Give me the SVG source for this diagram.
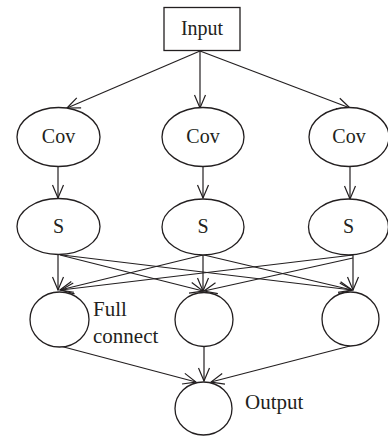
<svg xmlns="http://www.w3.org/2000/svg" width="388" height="436" viewBox="0 0 388 436">
<defs>
<style>
.n{fill:#fff;stroke:#231f20;stroke-width:1.3}
.t{font-family:"Liberation Serif","Times New Roman",serif;font-size:20px;fill:#231f20}
.c{text-anchor:middle}
.e{fill:none;stroke:#231f20;stroke-width:1.2;marker-end:url(#a)}
</style>
<marker id="a" markerUnits="userSpaceOnUse" markerWidth="16" markerHeight="14" refX="14" refY="6" orient="auto" viewBox="0 0 16 12">
<path d="M1,0.5 L14,6 L1,11.5" fill="none" stroke="#231f20" stroke-width="1.2"/>
</marker>
</defs>
<rect width="388" height="436" fill="#fff"/>
<g id="edges">
<line class="e" x1="200" y1="51" x2="67" y2="108"/>
<line class="e" x1="200" y1="51" x2="200" y2="108"/>
<line class="e" x1="200" y1="51" x2="350" y2="108"/>
<line class="e" x1="58" y1="166" x2="58" y2="198"/>
<line class="e" x1="203" y1="166" x2="203" y2="198"/>
<line class="e" x1="350" y1="166" x2="350" y2="199"/>
<line class="e" x1="58" y1="255" x2="58" y2="290"/>
<line class="e" x1="60" y1="255" x2="203" y2="291"/>
<line class="e" x1="62" y1="255" x2="352" y2="290"/>
<line class="e" x1="203" y1="255" x2="60" y2="290"/>
<line class="e" x1="203" y1="255" x2="203" y2="291"/>
<line class="e" x1="204" y1="255" x2="352" y2="290"/>
<line class="e" x1="353" y1="255" x2="61" y2="290"/>
<line class="e" x1="353" y1="258" x2="204" y2="291"/>
<line class="e" x1="353" y1="255" x2="353" y2="290"/>
<line class="e" x1="60" y1="346" x2="196" y2="382"/>
<line class="e" x1="204" y1="347" x2="204" y2="381"/>
<line class="e" x1="350" y1="346" x2="211" y2="382"/>
</g>
<g id="input">
<rect class="n" x="164" y="7.5" width="76" height="43"/>
<text class="t c" x="202" y="35">Input</text>
</g>
<g id="cov1">
<ellipse class="n" cx="58.5" cy="137" rx="41.5" ry="29.5"/>
<text class="t c" x="58.5" y="143">Cov</text>
</g>
<g id="cov2">
<ellipse class="n" cx="203" cy="137" rx="41" ry="29.5"/>
<text class="t c" x="203" y="143">Cov</text>
</g>
<g id="cov3">
<ellipse class="n" cx="349" cy="137" rx="40" ry="29.5"/>
<text class="t c" x="349" y="143">Cov</text>
</g>
<g id="s1">
<ellipse class="n" cx="58.5" cy="226.5" rx="41.5" ry="28"/>
<text class="t c" x="58.5" y="233">S</text>
</g>
<g id="s2">
<ellipse class="n" cx="203" cy="227" rx="41" ry="28"/>
<text class="t c" x="203" y="233">S</text>
</g>
<g id="s3">
<ellipse class="n" cx="348.5" cy="227" rx="40" ry="28"/>
<text class="t c" x="348.5" y="233">S</text>
</g>
<g id="fc1">
<ellipse class="n" cx="59.5" cy="319.5" rx="29.5" ry="27.5"/>
<text class="t" x="93" y="316" style="font-size:21px">Full</text>
<text class="t" x="93" y="343" style="font-size:21px">connect</text>
</g>
<g id="fc2">
<ellipse class="n" cx="204" cy="319.5" rx="29" ry="27"/>
</g>
<g id="fc3">
<ellipse class="n" cx="350.5" cy="319" rx="28.5" ry="27"/>
</g>
<g id="output">
<ellipse class="n" cx="203.5" cy="408.5" rx="28.5" ry="26.5"/>
<text class="t" x="245" y="409" style="font-size:21px">Output</text>
</g>
</svg>
